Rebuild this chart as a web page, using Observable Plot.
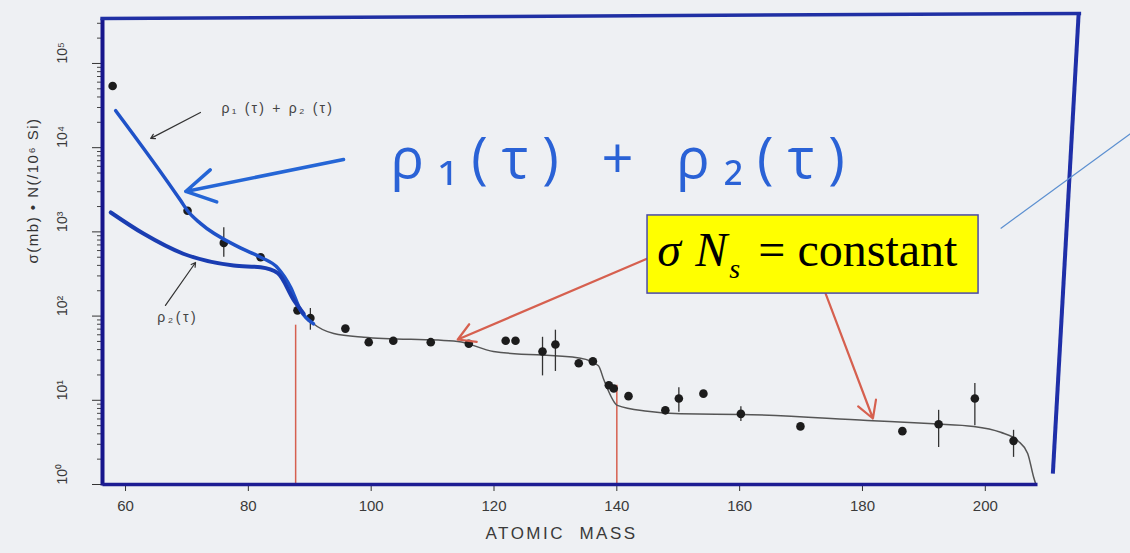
<!DOCTYPE html>
<html><head><meta charset="utf-8">
<script src="https://cdn.jsdelivr.net/npm/d3@7"></script>
<script src="https://cdn.jsdelivr.net/npm/@observablehq/plot@0.6"></script>
<style>
html,body{margin:0;padding:0;background:#eef0f3;overflow:hidden;}
#chart{width:1130px;height:553px;}
</style></head><body><div id="chart"></div>
<script>
// ---- measured data (atomic mass, sigma*N) ----
const pointMass  = [57.9, 70.1, 76.0, 82.0, 88.0, 90.1, 95.8, 99.6, 103.6, 109.7, 115.9, 121.9, 123.5, 127.9, 130.0, 133.8, 136.1, 138.7, 139.5, 141.9, 147.9, 150.1, 154.1, 160.2, 169.9, 186.5, 192.4, 198.3, 204.6];
const pointValue = [54000, 1780, 740, 500, 117, 95, 71, 49, 51, 49, 47, 51, 51, 38, 46, 27.5, 29, 15.1, 13.8, 11.2, 7.6, 10.5, 12.0, 6.9, 4.9, 4.3, 5.2, 10.5, 3.3];
// error bars
const errMass = [76.0, 90.1, 127.9, 130.0, 150.1, 160.2, 192.4, 198.3, 204.6];
const errLow  = [500, 68, 19.5, 22, 7.2, 5.6, 2.75, 5.0, 2.1];
const errHigh = [1120, 123, 56, 68, 14.1, 8.4, 7.6, 15.8, 4.4];
// printed sigma*N curve (rho1 + rho2)
const fitMass  = [58.4, 69.0, 70.1, 72.2, 78.7, 82.0, 84.8, 86.9, 88.5, 90.6, 93.9, 98.8, 114.1, 119.9, 134.1, 137.0, 137.9, 140.1, 145.0, 150.4, 160.2, 180.8, 191.6, 198.1, 202.5, 205.3, 206.9, 207.9, 208.2];
const fitValue = [27500, 2340, 1780, 1260, 646, 500, 372, 219, 117, 81, 62, 56, 50, 38, 31.6, 25.7, 17.4, 8.7, 7.4, 6.9, 6.8, 5.75, 5.25, 4.9, 4.17, 3.3, 2.34, 1.2, 1.02];
// rho2 curve (hand traced)
const rho2Mass  = [57.6, 62.9, 69.4, 77.6, 82.0, 84.8, 87.4, 89.0];
const rho2Value = [1700, 955, 550, 398, 380, 324, 155, 107];
// axes
const xTicks = [60, 80, 100, 120, 140, 160, 180, 200];
const yMajorTicks = [1, 10, 100, 1000, 10000, 100000];
const yTickLabels = ["10⁰", "10¹", "10²", "10³", "10⁴", "10⁵"];
const yMinorTicks = [];
for (let e = 0; e < 6; e++) for (let k = 2; k <= 9; k++) { const v = k * 10 ** e; if (v < 342000) yMinorTicks.push(v); }
const xLabel = "ATOMIC  MASS";
const yLabel = "σ(mb) • N(/10⁶ Si)";
const threshMass = [87.7, 140.0];
const threshTop = [78, 15.1];
const handNote = "ρ₁(τ) + ρ₂(τ)";
const printedSum = "ρ₁ (τ) + ρ₂ (τ)";
const printedRho2 = "ρ₂(τ)";

const points = pointMass.map((m, i) => ({mass: m, value: pointValue[i]}));
const errs = errMass.map((m, i) => ({mass: m, lo: errLow[i], hi: errHigh[i]}));
const fit = fitMass.map((m, i) => ({mass: m, value: fitValue[i]}));
const traced = fit.filter(d => d.mass <= 90.6);
const rho2 = rho2Mass.map((m, i) => ({mass: m, value: rho2Value[i]}));

// hand-drawn frame (blue pen)
const frameSegs = [
  {x1: 56.25, y1: 0.97, x2: 56.25, y2: 342000, c: "#17168c", w: 4},
  {x1: 56.25, y1: 1, x2: 208.5, y2: 1, c: "#1c1c92", w: 3.5},
  {x1: 55.9, y1: 342000, x2: 215.6, y2: 393000, c: "#2030a4", w: 3.5},
  {x1: 215.2, y1: 393000, x2: 211.0, y2: 1.35, c: "#1f2fa8", w: 4}
];

const chart = Plot.plot({
  width: 1130, height: 553,
  marginLeft: 102, marginRight: 93, marginTop: 18, marginBottom: 69,
  style: {background: "transparent", fontFamily: "Liberation Sans, Arial, sans-serif", overflow: "visible"},
  x: {domain: [56.25, 208.5]},
  y: {type: "log", domain: [1, 342000]},
  marks: [
    Plot.axisX({ticks: xTicks, tickSize: 7, tickPadding: 9, fontSize: 15, stroke: "#333", color: "#3a3a3a", label: null}),
    Plot.axisY({ticks: yMinorTicks, tickSize: 5, tickFormat: () => "", label: null, stroke: "#444"}),
    Plot.axisY({ticks: yMajorTicks, tickSize: 10, tickFormat: () => "", label: null, stroke: "#333"}),
    Plot.text(yMajorTicks, {y: d => d, text: yTickLabels, frameAnchor: "left", dx: -40, rotate: -90, fontSize: 14, fill: "#3a3a3a"}),
    Plot.text([yLabel], {y: 422, text: d => d, frameAnchor: "left", dx: -69, rotate: -90, fontSize: 15, fill: "#333"}),
    Plot.text([xLabel], {x: 131, text: d => d, frameAnchor: "bottom", dy: 54, fontSize: 17, fill: "#3a3a3a"}),
    // threshold red lines
    Plot.ruleX(threshMass, {x: d => d, y1: (d, i) => threshTop[i], y2: 1, stroke: "#d6604f", strokeWidth: 1.5}),
    // printed curve and data
    Plot.line(fit, {x: "mass", y: "value", stroke: "#555", strokeWidth: 1.5, curve: "monotone-x"}),
    Plot.ruleX(errs, {x: "mass", y1: "lo", y2: "hi", stroke: "#333", strokeWidth: 1.3}),
    Plot.dot(points, {x: "mass", y: "value", r: 4.3, fill: "#1c1c1c"}),
    // hand-traced blue curves
    Plot.line(traced, {x: "mass", y: "value", stroke: "#1f52c8", strokeWidth: 3.5, curve: "monotone-x"}),
    Plot.line(rho2, {x: "mass", y: "value", stroke: "#1a3db2", strokeWidth: 4, curve: "monotone-x"}),
    // printed labels
    Plot.arrow([{x1: 72.2, y1: 26200, x2: 64.1, y2: 12900}, {x1: 66.5, y1: 134, x2: 71.4, y2: 433}], {x1: "x1", y1: "y1", x2: "x2", y2: "y2", stroke: "#333", strokeWidth: 1.2, headLength: 6}),
    Plot.text([printedSum], {x: 84.8, y: 29200, text: d => d, fontSize: 14, fill: "#444"}),
    Plot.text([printedRho2], {x: 68.5, y: 96, text: d => d, fontSize: 14, fill: "#444"}),
    // frame
    Plot.link(frameSegs, {x1: "x1", y1: "y1", x2: "x2", y2: "y2", stroke: "c", strokeWidth: "w"}),
    // handwritten annotation
    Plot.arrow([{x1: 95.5, y1: 7240, x2: 69.8, y2: 3020}], {x1: "x1", y1: "y1", x2: "x2", y2: "y2", stroke: "#2566d6", strokeWidth: 3.5, headLength: 14}),
    Plot.text([handNote], {x: 140.1, y: 7050, text: d => d, dx: 7, fontSize: 56, fill: "#2a62d6", fontFamily: "Open Sans"}),
    // red arrows and yellow box
    Plot.arrow([{x1: 145.0, y1: 483, x2: 114.1, y2: 52.7}, {x1: 174.0, y1: 185, x2: 181.7, y2: 6.08}], {x1: "x1", y1: "y1", x2: "x2", y2: "y2", stroke: "#d6604f", strokeWidth: 2.2, headLength: 13}),
    Plot.link([{x1: 202.5, y1: 1100, x2: 223.7, y2: 14800}], {x1: "x1", y1: "y1", x2: "x2", y2: "y2", stroke: "#5b8fd0", strokeWidth: 1.2}),
    Plot.rect([{x1: 145.0, x2: 198.9, y1: 185, y2: 1567}], {x1: "x1", x2: "x2", y1: "y1", y2: "y2", fill: "#ffff00", stroke: "#4a4aa8", strokeWidth: 1.5}),
    Plot.text(["σ"], {x: 146.6, y: 600, text: d => d, textAnchor: "start", fontSize: 48, fontFamily: "Liberation Serif", fontStyle: "italic", fill: "#000"}),
    Plot.text(["N"], {x: 146.6, y: 600, text: d => d, textAnchor: "start", dx: 38, fontSize: 48, fontFamily: "Liberation Serif", fontStyle: "italic", fill: "#000"}),
    Plot.text(["s"], {x: 146.6, y: 600, text: d => d, textAnchor: "start", dx: 72, dy: 18, fontSize: 28, fontFamily: "Liberation Serif", fontStyle: "italic", fill: "#000"}),
    Plot.text(["= constant"], {x: 146.6, y: 600, text: d => d, textAnchor: "start", dx: 101, fontSize: 48, fontFamily: "Liberation Serif", fill: "#000"})
  ]
});
// letter spacing for the scanned / handwritten texts
const spacing = new Map([[handNote, "14px"], [printedSum, "2.2px"], [printedRho2, "2.5px"], [xLabel, "2.5px"], [yLabel, "1.5px"]]);
d3.select(chart).selectAll("text").each(function() {
  const s = spacing.get(this.textContent);
  if (s) this.style.letterSpacing = s;
});
d3.select(chart).selectAll("text").filter(function(){ return this.textContent === xLabel; }).style("white-space", "pre");
document.getElementById("chart").appendChild(chart);
</script>
</body></html>
